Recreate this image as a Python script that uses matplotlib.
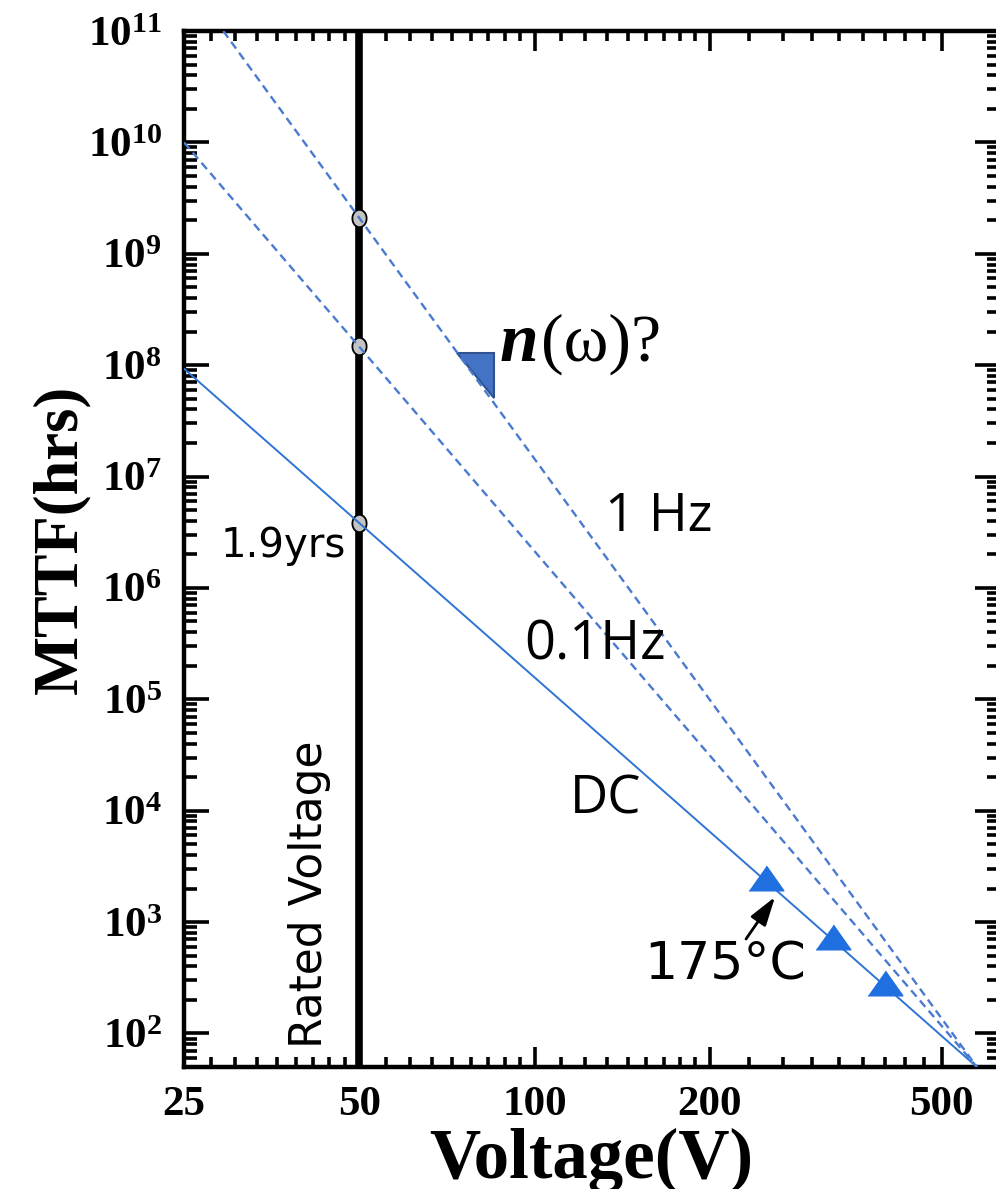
import matplotlib
matplotlib.use("Agg")
import matplotlib.pyplot as plt
import numpy as np
from matplotlib.ticker import FixedLocator, NullFormatter, LogLocator, FuncFormatter

plt.rcParams['font.family'] = 'Liberation Serif'
plt.rcParams['font.weight'] = 'bold'
plt.rcParams['mathtext.fontset'] = 'custom'
plt.rcParams['mathtext.bf'] = 'Liberation Serif:bold'
plt.rcParams['mathtext.rm'] = 'Liberation Serif:bold'

# lifetime lines (end points)
dc_v = [25, 575]
dc_mttf = [9.3e7, 50]
hz01_v = [25, 575]
hz01_mttf = [1.0e10, 50]
hz1_v = [29.2, 575]
hz1_mttf = [1.0e11, 50]

# measured points at 175 C
meas_v = [250, 325, 400]
meas_mttf = [2480, 740, 286]

# values at rated voltage
rated_v = 50
rated_mttf = [2.09e9, 1.49e8, 3.8e6]

# slope triangle near the 1 Hz line
slope_tri_v = [73.7, 85.3, 85.3]
slope_tri_mttf = [1.28e8, 1.28e8, 5.05e7]

x_major = [25, 50, 100, 200, 500]
x_minor = np.concatenate([np.linspace(a, b, 10)[1:-1]
                          for a, b in zip(x_major[:-1], x_major[1:])])

W, H = 996, 1189
fig = plt.figure(figsize=(W/100, H/100), dpi=100)
ax = fig.add_axes([184/W, 1 - 1067/H, (1000 - 184)/W, (1067 - 31)/H])

def fx(x):
    return x/W

def fy(y):
    return 1 - y/H

ax.set_xscale('log')
ax.set_yscale('log')
ax.set_xlim(25, 630)
ax.set_ylim(50, 1e11)

# rated voltage line
ax.axvline(rated_v, color='k', lw=5.5, zorder=2)
ax.fill(slope_tri_v, slope_tri_mttf, facecolor='#4472c4', edgecolor='#2f528f',
        lw=1.5, zorder=2)

th = np.linspace(0, 2*np.pi, 40)
ellipse = list(zip(0.82*np.cos(th), np.sin(th)))
ax.plot([rated_v]*3, rated_mttf, linestyle='None', marker=ellipse,
        markersize=12.5, markerfacecolor='#c4c4c4', markeredgecolor='k',
        markeredgewidth=1.3, zorder=3)

ax.plot(dc_v, dc_mttf, color='#2e74d4', lw=1.4, zorder=4)
ax.plot(hz01_v, hz01_mttf, color='#4a7ad0', lw=1.7, dashes=(3.5, 2.2), zorder=4)
ax.plot(hz1_v, hz1_mttf, color='#4a7ad0', lw=1.7, dashes=(3.5, 2.2), zorder=4)

tri = [(-1, -0.71), (1, -0.71), (0, 0.71)]
ax.plot(meas_v, meas_mttf, linestyle='None', marker=tri, markersize=25,
        color='#1f6fe0', zorder=5)

# ticks
ax.xaxis.set_major_locator(FixedLocator(x_major))
ax.xaxis.set_minor_locator(FixedLocator(x_minor))
ax.xaxis.set_major_formatter(FuncFormatter(lambda v, p: '%d' % v))
ax.xaxis.set_minor_formatter(NullFormatter())
ax.yaxis.set_major_locator(LogLocator(base=10, numticks=20))
ax.yaxis.set_minor_locator(LogLocator(base=10, subs=np.arange(2, 10), numticks=20))
ax.yaxis.set_major_formatter(FuncFormatter(
    lambda v, p: r'$\mathbf{10^{%d}}$' % round(np.log10(v))))
ax.yaxis.set_minor_formatter(NullFormatter())

ax.tick_params(which='both', direction='in', top=True, right=True, width=2.6,
               labelsize=31)
ax.tick_params(axis='x', which='major', length=14.4, pad=14)
ax.tick_params(axis='x', which='minor', length=7.2)
ax.tick_params(axis='y', which='major', length=18, pad=16)
ax.tick_params(axis='y', which='minor', length=9.4)
for s in ax.spines.values():
    s.set_linewidth(3.2)

fig.text(fx(591), fy(1178), 'Voltage(V)', fontsize=51, fontweight='bold',
         ha='center', va='baseline')
fig.text(fx(76), fy(539), 'MTTF(hrs)', fontsize=45, fontweight='bold',
         rotation=90, rotation_mode='anchor', ha='center', va='baseline')

# annotations
sans = dict(family='DejaVu Sans', fontweight='normal')
fig.text(fx(322), fy(1048), 'Rated Voltage', fontsize=31.7, rotation=90,
         rotation_mode='anchor', ha='left', va='baseline', **sans)
fig.text(fx(221), fy(557), '1.9yrs', fontsize=29, ha='left', va='baseline', **sans)
fig.text(fx(644), fy(980), '175°C', fontsize=37.5, ha='left', va='baseline', **sans)

cal = dict(family='Open Sans', fontweight='normal')
fig.text(fx(605), fy(531), '1 Hz', fontsize=38, ha='left', va='baseline', **cal)
fig.text(fx(524), fy(660), '0.1Hz', fontsize=39, ha='left', va='baseline', **cal)
fig.text(fx(570), fy(813), 'DC', fontsize=38, ha='left', va='baseline', **cal)

fig.text(fx(500), fy(361), 'n', fontsize=50, family='Liberation Serif',
         fontweight='bold', style='italic', ha='left', va='baseline')
fig.text(fx(541), fy(361), '(ω)?', fontsize=49, family='Liberation Serif',
         fontweight='normal', ha='left', va='baseline')

ax.annotate('', xy=(fx(775), fy(897)), xycoords='figure fraction',
            xytext=(fx(746), fy(939)), textcoords='figure fraction',
            arrowprops=dict(arrowstyle='-|>,head_length=0.8,head_width=0.25',
                            color='k', lw=2, mutation_scale=22,
                            shrinkA=0, shrinkB=0))

fig.savefig('out.png', dpi=100)
